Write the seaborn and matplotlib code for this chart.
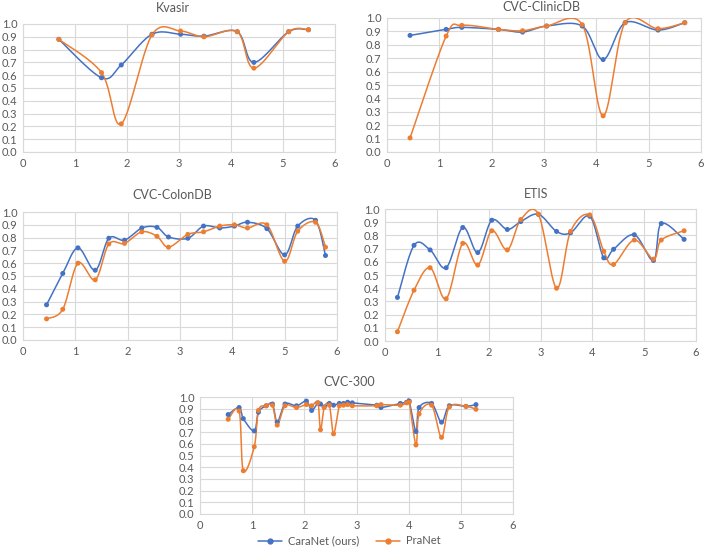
import numpy as np
import pandas as pd
import seaborn as sns
import matplotlib.pyplot as plt
from matplotlib.lines import Line2D

# values (x shared by both models)
kvasir_x = [0.69, 1.51, 1.89, 2.48, 3.03, 3.48, 4.12, 4.44, 5.11, 5.49]
kvasir_caranet = [0.88, 0.58, 0.68, 0.92, 0.92, 0.905, 0.94, 0.70, 0.94, 0.955]
kvasir_pranet = [0.88, 0.62, 0.22, 0.915, 0.945, 0.90, 0.94, 0.655, 0.94, 0.955]

clinic_x = [0.44, 1.13, 1.43, 2.13, 2.59, 3.05, 3.73, 4.13, 4.55, 5.18, 5.69]
clinic_caranet = [0.87, 0.915, 0.93, 0.915, 0.895, 0.94, 0.94, 0.69, 0.965, 0.91, 0.965]
clinic_pranet = [0.105, 0.865, 0.945, 0.915, 0.905, 0.94, 0.95, 0.27, 0.965, 0.92, 0.965]

colon_x = [0.45, 0.76, 1.05, 1.38, 1.64, 1.94, 2.27, 2.56, 2.78, 3.15,
           3.45, 3.76, 4.04, 4.29, 4.66, 5.00, 5.25, 5.59, 5.78]
colon_caranet = [0.275, 0.52, 0.72, 0.545, 0.795, 0.78, 0.875, 0.88, 0.805, 0.795,
                 0.89, 0.875, 0.89, 0.92, 0.87, 0.665, 0.89, 0.935, 0.66]
colon_pranet = [0.165, 0.24, 0.60, 0.47, 0.75, 0.755, 0.845, 0.81, 0.725, 0.825,
                0.845, 0.89, 0.90, 0.875, 0.90, 0.615, 0.85, 0.92, 0.725]

etis_x = [0.24, 0.56, 0.87, 1.18, 1.50, 1.79, 2.06, 2.36, 2.62, 2.96,
          3.31, 3.58, 3.95, 4.22, 4.41, 4.81, 5.18, 5.33, 5.77]
etis_caranet = [0.33, 0.725, 0.69, 0.555, 0.86, 0.67, 0.915, 0.845, 0.905, 0.96,
                0.83, 0.82, 0.945, 0.63, 0.695, 0.805, 0.61, 0.89, 0.77]
etis_pranet = [0.07, 0.385, 0.555, 0.32, 0.74, 0.575, 0.835, 0.69, 0.92, 0.96,
               0.40, 0.83, 0.955, 0.68, 0.58, 0.765, 0.62, 0.765, 0.835]

cvc300_x = [0.54, 0.75, 0.83, 1.04, 1.12, 1.27, 1.39, 1.48, 1.63, 1.85,
            2.04, 2.14, 2.26, 2.31, 2.38, 2.48, 2.56, 2.67, 2.75, 2.83,
            2.92, 3.39, 3.47, 3.84, 3.96, 4.01, 4.14, 4.20, 4.44, 4.63,
            4.78, 5.10, 5.29]
cvc300_caranet = [0.85, 0.91, 0.815, 0.71, 0.87, 0.925, 0.94, 0.785, 0.94, 0.925,
                  0.965, 0.885, 0.95, 0.94, 0.915, 0.945, 0.93, 0.945, 0.945, 0.955,
                  0.95, 0.93, 0.91, 0.945, 0.955, 0.965, 0.705, 0.91, 0.945, 0.785,
                  0.925, 0.92, 0.935]
cvc300_pranet = [0.81, 0.88, 0.37, 0.575, 0.885, 0.925, 0.93, 0.76, 0.925, 0.91,
                 0.935, 0.925, 0.95, 0.72, 0.91, 0.93, 0.685, 0.925, 0.93, 0.935,
                 0.925, 0.925, 0.935, 0.93, 0.95, 0.955, 0.59, 0.855, 0.93, 0.655,
                 0.915, 0.92, 0.895]

models = ["CaraNet (ours)", "PraNet"]
colors = {"CaraNet (ours)": "#4472C4", "PraNet": "#ED7D31"}

datasets = [
    ("Kvasir", kvasir_x, kvasir_caranet, kvasir_pranet),
    ("CVC-ClinicDB", clinic_x, clinic_caranet, clinic_pranet),
    ("CVC-ColonDB", colon_x, colon_caranet, colon_pranet),
    ("ETIS", etis_x, etis_caranet, etis_pranet),
    ("CVC-300", cvc300_x, cvc300_caranet, cvc300_pranet),
]

# axes boxes in pixels (left, right, top, bottom) and title centre (x, y)
W, H = 706, 548
boxes = [(23, 335, 24, 152), (387, 701, 18, 152), (23, 337, 212, 340),
         (385, 696, 209, 341), (200, 513, 397, 514)]
title_pos = [(173, 8), (541, 7), (172, 195), (536, 194), (349, 382)]


def smooth(x, y, n=30):
    # excel-like smoothed line (catmull-rom as cubic bezier)
    p = np.column_stack([x, y])
    p = np.vstack([p[0], p, p[-1]])
    t = np.linspace(0, 1, n)[:, None]
    out = []
    for i in range(1, len(p) - 2):
        p0, p1, p2, p3 = p[i - 1], p[i], p[i + 1], p[i + 2]
        c1 = p1 + (p2 - p0) / 6
        c2 = p2 - (p3 - p1) / 6
        seg = ((1 - t) ** 3) * p1 + 3 * ((1 - t) ** 2) * t * c1 + 3 * (1 - t) * t ** 2 * c2 + t ** 3 * p2
        out.append(seg)
    out = np.vstack(out)
    return out[:, 0], out[:, 1]


sns.set_style("white")
plt.rcParams['font.family'] = ['Lato', 'DejaVu Sans']
text_col = "#595959"
grid_col = "#D9D9D9"

fig = plt.figure(figsize=(W / 100, H / 100), dpi=100)

for (name, xs, cara, pra), (l, r, t, b), (tx, ty) in zip(datasets, boxes, title_pos):
    ax = fig.add_axes([l / W, 1 - b / H, (r - l) / W, (b - t) / H])
    df = pd.DataFrame({"x": xs * 2, "score": cara + pra,
                       "model": [models[0]] * len(xs) + [models[1]] * len(xs)})
    for m in models:
        sub = df[df["model"] == m]
        sx, sy = smooth(sub["x"].values, sub["score"].values)
        ax.plot(sx, sy, color=colors[m], lw=1.1, zorder=3)
    sns.scatterplot(data=df, x="x", y="score", hue="model", palette=colors,
                    s=13, linewidth=0, legend=False, ax=ax, zorder=4)
    ax.set_xlim(0, 6)
    ax.set_ylim(0, 1)
    ax.set_xticks(range(7))
    ax.set_yticks(np.round(np.arange(0, 1.01, 0.1), 1))
    ax.set_yticklabels([f"{v:.1f}" for v in np.arange(0, 1.01, 0.1)])
    ax.grid(True, color=grid_col, lw=0.8)
    ax.set_axisbelow(True)
    for s in ax.spines.values():
        s.set_color(grid_col)
        s.set_linewidth(0.8)
    ax.tick_params(length=0, labelsize=8, colors=text_col, pad=4)
    ax.set_xlabel("")
    ax.set_ylabel("")
    fig.text(tx / W, 1 - ty / H, name, ha="center", va="center",
             fontsize=9, color=text_col)

handles = [Line2D([], [], color=colors[m], lw=1.1, marker="o", markersize=3.5)
           for m in models]
fig.legend(handles, models, loc="center", bbox_to_anchor=(349 / W, 1 - 541 / H),
           ncol=2, frameon=False, fontsize=8, labelcolor=text_col,
           handlelength=2.2, columnspacing=1.5, handletextpad=0.5)

fig.savefig("out.png", dpi=100)
